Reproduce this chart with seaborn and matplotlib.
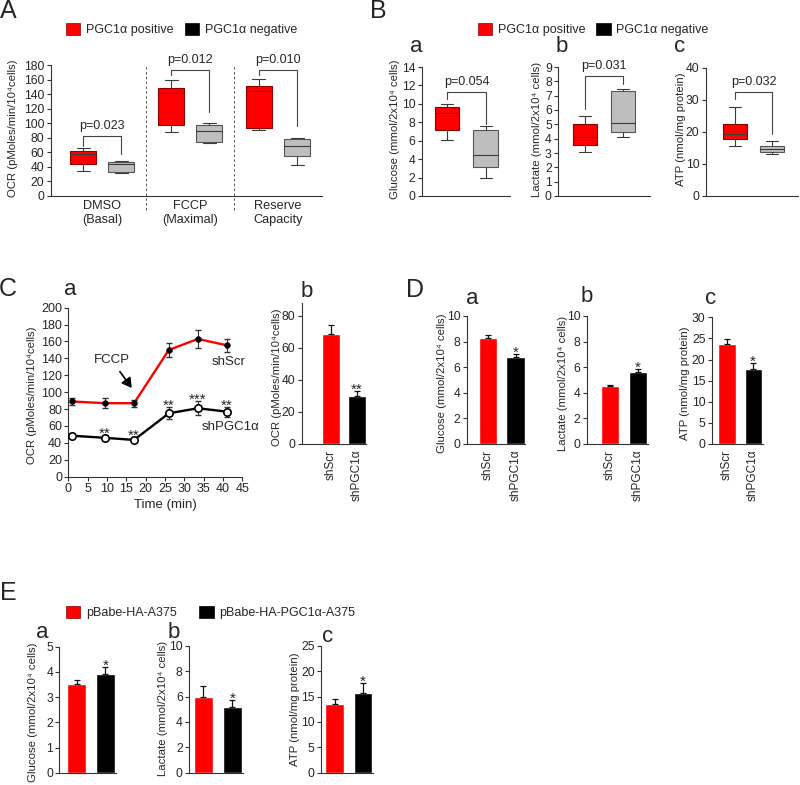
import numpy as np
import pandas as pd
import seaborn as sns
import matplotlib.pyplot as plt
from matplotlib.patches import Patch

# ================================
# data
# ================================
STATUS = ["PGC1α positive", "PGC1α negative"]

# panel A: five-number summaries (min, Q1, median, Q3, max)
A_GROUPS = ["DMSO\n(Basal)", "FCCP\n(Maximal)", "Reserve\nCapacity"]
A_POS = [[34, 44, 58, 62, 66], [88, 98, 142, 149, 160], [90, 93, 144, 151, 161]]
A_NEG = [[31, 33, 44, 46, 48], [73, 74, 89, 98, 100], [42, 54, 69, 78, 80]]
A_P = ["p=0.023", "p=0.012", "p=0.010"]
A_BRACKET = [82, 173, 173]
A_LEG_L = [69, 166, 166]
A_LEG_R = [57, 115, 96]

# panel B: five-number summaries
B_GLUCOSE_POS = [6.1, 7.2, 9.0, 9.7, 10.0]
B_GLUCOSE_NEG = [1.9, 3.1, 4.5, 7.2, 7.6]
B_LACTATE_POS = [3.1, 3.55, 4.15, 5.0, 5.6]
B_LACTATE_NEG = [4.15, 4.5, 5.1, 7.3, 7.5]
B_ATP_POS = [15.5, 17.8, 19.3, 22.5, 27.8]
B_ATP_NEG = [13.1, 13.8, 14.7, 15.5, 17.2]
B_P = ["p=0.054", "p=0.031", "p=0.032"]
B_BRACKET = [11.3, 8.37, 32.5]
B_LEG_L = [10.5, 6.05, 30.4]
B_LEG_R = [7.85, 7.84, 19.4]

# panel C
TIME = [1, 9.5, 17, 26, 33.5, 41]
SHSCR = [89, 87, 87, 150, 163, 155.5]
SHSCR_ERR = [4, 6, 4, 8, 11, 8]
SHPGC = [48.5, 46, 43.5, 75, 81, 77]
SHPGC_ERR = [3, 3, 3, 7, 8, 6]
C_STARS = ["", "**", "**", "**", "***", "**"]
SH_LABELS = ["shScr", "shPGC1α"]
CB_OCR = [68.5, 30]
CB_ERR = [5.5, 2.7]
CB_STARS = ["", "**"]

# panel D
D_GLUCOSE = [8.3, 6.8]
D_GLUCOSE_ERR = [0.2, 0.25]
D_LACTATE = [4.5, 5.6]
D_LACTATE_ERR = [0.12, 0.28]
D_ATP = [23.7, 17.7]
D_ATP_ERR = [1.2, 1.4]
D_STARS = ["", "*"]

# panel E
E_LABELS = ["pBabe-HA-A375", "pBabe-HA-PGC1α-A375"]
E_GLUCOSE = [3.52, 3.9]
E_GLUCOSE_ERR = [0.15, 0.28]
E_LACTATE = [5.95, 5.15]
E_LACTATE_ERR = [0.87, 0.57]
E_ATP = [13.5, 15.7]
E_ATP_ERR = [0.95, 2.0]
E_STARS = ["*", "*", "*"]

OCR_LABEL = "OCR (pMoles/min/10⁴cells)"
GLU_LABEL = "Glucose (mmol/2x10⁴ cells)"
LAC_LABEL = "Lactate (mmol/2x10⁴ cells)"
ATP_LABEL = "ATP (nmol/mg protein)"

RED = "#FF0000"
GRAY = "#BEBEBE"
BLACK = "#000000"
LINE = "#333333"

# ================================
# figure helpers (pixel layout of the 800x785 reference)
# ================================
sns.set_theme(style="ticks")
plt.rcParams["font.family"] = ["Liberation Sans", "DejaVu Sans"]

W, H = 800, 785
fig = plt.figure(figsize=(W / 100, H / 100), dpi=100)


def add_ax(l, t, r, b):
    return fig.add_axes([l / W, 1 - b / H, (r - l) / W, (b - t) / H])


def ftext(x, y, s, **kw):
    fig.text(x / W, 1 - y / H, s, **kw)


def style_ax(ax, ticksize=8.7):
    sns.despine(ax=ax)
    for sp in ("left", "bottom"):
        ax.spines[sp].set_linewidth(0.8)
        ax.spines[sp].set_color(LINE)
    ax.tick_params(axis="y", labelsize=ticksize, length=3, width=0.8, color=LINE, pad=1.5)
    ax.tick_params(axis="x", length=0)
    ax.set_xlabel("")
    ax.set_ylabel("")


def ylabel(x, y, s):
    ftext(x, y, s, rotation=90, ha="center", va="center", fontsize=8.2)


def letter(x, y, s, size=16):
    ftext(x, y, s, ha="center", va="center", fontsize=size)


def bracket(ax, x0, x1, top, left, right, label, ymax):
    ax.plot([x0, x0, x1, x1], [left, top, top, right], color="#444444", lw=0.8, clip_on=False)
    ax.text((x0 + x1) / 2, top + 0.08 * ymax, label, ha="center", va="center",
            fontsize=9, clip_on=False)


def fix_box_edges(ax):
    for p in ax.patches:
        fc = p.get_facecolor()
        if fc[0] > 0.9 and fc[1] < 0.2:
            p.set_edgecolor("#8c0000")
        else:
            p.set_edgecolor("#555555")


def stars(ax, xs, tops, labels):
    for x, y, s in zip(xs, tops, labels):
        if s:
            ax.annotate(s, (x, y), xytext=(0, -2), textcoords="offset points",
                        ha="center", va="baseline", fontsize=11)


def bar_panel(rect, xlim, ylim, yticks, values, errs, star_labels, width=0.66, ticklabels=None):
    ax = add_ax(*rect)
    sns.barplot(x=SH_LABELS, y=values, hue=SH_LABELS, palette=[RED, BLACK], width=width,
                saturation=1, legend=False, ax=ax)
    ax.errorbar([0, 1], values, yerr=[[0, 0], errs], fmt="none", ecolor="#111111",
                elinewidth=0.9, capsize=2.5, capthick=0.9)
    stars(ax, [0, 1], np.add(values, errs), star_labels)
    style_ax(ax)
    ax.set_xlim(*xlim)
    ax.set_ylim(*ylim)
    ax.set_yticks(yticks)
    ax.set_xticks([0, 1])
    if ticklabels:
        ax.set_xticklabels(ticklabels, rotation=90, fontsize=8.5)
        ax.tick_params(axis="x", pad=4)
    else:
        ax.set_xticklabels([])
    return ax


# ================================
# A: OCR box plots
# ================================
rows = []
for g, pos, neg in zip(A_GROUPS, A_POS, A_NEG):
    rows += [(g, STATUS[0], v) for v in pos]
    rows += [(g, STATUS[1], v) for v in neg]
df_a = pd.DataFrame(rows, columns=["group", "status", "ocr"])

ax = add_ax(50.7, 65, 322, 195.7)
sns.boxplot(data=df_a, x="group", y="ocr", hue="status", hue_order=STATUS,
            palette=[RED, GRAY], whis=(0, 100), width=0.87, gap=0.32, linewidth=0.8,
            linecolor="#3a3a3a", saturation=1, legend=False, ax=ax)
fix_box_edges(ax)
style_ax(ax)
ax.set_ylim(0, 180)
ax.set_yticks(range(0, 181, 20))
ax.set_xlim(-0.586, 2.5)
ax.set_xticks([0, 1, 2])
ax.set_xticklabels(A_GROUPS, fontsize=9.2)
ax.tick_params(axis="x", pad=3)
for sep in (0.5, 1.5):
    ax.plot([sep, sep], [-20, 180], ls=(0, (2.5, 2.5)), lw=0.7, color="#555555", clip_on=False)
for i in range(3):
    bracket(ax, i - 0.2175, i + 0.2175, A_BRACKET[i], A_LEG_L[i], A_LEG_R[i], A_P[i], 180)
ylabel(13, 128, OCR_LABEL)
letter(8, 11, "A", 18)

legend_handles = [Patch(facecolor=RED, edgecolor="#8c0000", lw=0.5),
                  Patch(facecolor=BLACK, edgecolor=BLACK, lw=0.5)]
for x0 in (66, 477.7):
    fig.legend(handles=legend_handles, labels=STATUS, loc="center left",
               bbox_to_anchor=(x0 / W, 1 - 29.5 / H), ncol=2, frameon=False, fontsize=9,
               handlelength=1.15, handleheight=1.15, handletextpad=0.45,
               columnspacing=0.9, borderpad=0, borderaxespad=0)

# ================================
# B: glucose / lactate / ATP box plots
# ================================
b_panels = [
    ((421.7, 67, 510, 196), (-0.65, 1.62), 14, range(0, 15, 2), B_GLUCOSE_POS, B_GLUCOSE_NEG,
     GLU_LABEL, 395, "a", 416),
    ((558, 67, 650, 196), (-0.71, 1.71), 9, range(0, 10), B_LACTATE_POS, B_LACTATE_NEG,
     LAC_LABEL, 536.7, "b", 562),
    ((705.7, 68, 798, 196), (-0.78, 1.68), 40, range(0, 41, 10), B_ATP_POS, B_ATP_NEG,
     ATP_LABEL, 680.5, "c", 679.5),
]
letter(378, 11, "B", 18)
for i, (rect, xlim, ymax, yt, pos, neg, lab, lx, let, letx) in enumerate(b_panels):
    df_b = pd.DataFrame({"status": [STATUS[0]] * 5 + [STATUS[1]] * 5, "value": pos + neg})
    ax = add_ax(*rect)
    sns.boxplot(data=df_b, x="status", y="value", hue="status", order=STATUS, hue_order=STATUS,
                palette=[RED, GRAY], whis=(0, 100), width=0.64, linewidth=0.8,
                linecolor="#3a3a3a", saturation=1, legend=False, ax=ax)
    fix_box_edges(ax)
    style_ax(ax)
    ax.set_ylim(0, ymax)
    ax.set_yticks(list(yt))
    ax.set_xlim(*xlim)
    ax.set_xticks([])
    bracket(ax, 0, 1, B_BRACKET[i], B_LEG_L[i], B_LEG_R[i], B_P[i], ymax)
    ylabel(lx, 129, lab)
    letter(letx, 46.5, let)

# ================================
# C: OCR time course and summary bars
# ================================
letter(8, 289, "C", 18)
ax = add_ax(68.3, 307.7, 242.3, 476.7)
df_c = pd.DataFrame({"time": TIME * 2, "ocr": SHSCR + SHPGC,
                     "line": ["shScr"] * 6 + ["shPGC1α"] * 6})
sns.lineplot(data=df_c, x="time", y="ocr", hue="line", palette=[RED, BLACK], lw=1.7,
             legend=False, ax=ax)
ax.errorbar(TIME, SHSCR, yerr=SHSCR_ERR, fmt="none", ecolor=LINE, elinewidth=0.8, capsize=2.5)
ax.errorbar(TIME, SHPGC, yerr=SHPGC_ERR, fmt="none", ecolor=LINE, elinewidth=0.8, capsize=2.5)
sns.scatterplot(x=TIME, y=SHSCR, color="black", edgecolor="black", s=18, zorder=4, ax=ax)
sns.scatterplot(x=TIME, y=SHPGC, color="white", edgecolor="black", linewidth=1.2, s=28,
                zorder=4, ax=ax)
stars(ax, TIME, np.add(SHPGC, SHPGC_ERR), C_STARS)
style_ax(ax, ticksize=9)
ax.tick_params(axis="x", labelsize=9, length=3, width=0.8, color=LINE, pad=1.5)
ax.set_xlim(0, 45)
ax.set_ylim(0, 200)
ax.set_xticks(range(0, 46, 5))
ax.set_yticks(range(0, 201, 20))
ax.annotate("FCCP", xy=(16.4, 105), xytext=(11.2, 138), ha="center", va="center", fontsize=9.5,
            arrowprops=dict(arrowstyle="-|>,head_length=0.6,head_width=0.35", color="black",
                            lw=1.2, shrinkA=2, shrinkB=0))
ax.text(41.5, 136, "shScr", ha="center", va="center", fontsize=9.5)
ax.text(42, 59, "shPGC1α", ha="center", va="center", fontsize=9.5)
ftext(165, 505, "Time (min)", ha="center", va="center", fontsize=9.5)
ylabel(31.7, 395, OCR_LABEL)
letter(70, 290, "a")

bar_panel((301.7, 302.7, 366, 444), (-1.12, 1.36), (0, 88), range(0, 81, 20), CB_OCR, CB_ERR,
          CB_STARS, width=0.7, ticklabels=SH_LABELS)
ylabel(276.5, 377, OCR_LABEL)
letter(307, 292, "b")

# ================================
# D: shRNA metabolite bars
# ================================
letter(415, 290, "D", 18)
bar_panel((466.7, 316, 525, 444), (-0.775, 1.345), (0, 10), range(0, 11, 2), D_GLUCOSE,
          D_GLUCOSE_ERR, D_STARS, ticklabels=SH_LABELS)
ylabel(441.7, 383, GLU_LABEL)
letter(472, 298.5, "a")
bar_panel((586.7, 316, 648, 444), (-0.838, 1.37), (0, 10), range(0, 11, 2), D_LACTATE,
          D_LACTATE_ERR, D_STARS, ticklabels=SH_LABELS)
ylabel(563.3, 383, LAC_LABEL)
letter(587, 297, "b")
bar_panel((711.7, 317.3, 763, 444), (-0.59, 1.38), (0, 30), range(0, 31, 5), D_ATP,
          D_ATP_ERR, D_STARS, ticklabels=SH_LABELS)
ylabel(685, 383, ATP_LABEL)
letter(711, 298.5, "c")

# ================================
# E: overexpression metabolite bars
# ================================
letter(8, 593.5, "E", 18)
fig.legend(handles=legend_handles, labels=E_LABELS, loc="center left",
           bbox_to_anchor=(66 / W, 1 - 612.5 / H), ncol=2, frameon=False, fontsize=9,
           handlelength=1.15, handleheight=1.15, handletextpad=0.45,
           columnspacing=1.8, borderpad=0, borderaxespad=0)
bar_panel((59.3, 646.7, 116, 772.7), (-0.614, 1.375), (0, 5), range(0, 6), E_GLUCOSE,
          E_GLUCOSE_ERR, ["", E_STARS[0]])
ylabel(33, 712, GLU_LABEL)
letter(42, 632, "a")
bar_panel((189, 645.7, 243, 772.7), (-0.49, 1.37), (0, 10), range(0, 11, 2), E_LACTATE,
          E_LACTATE_ERR, ["", E_STARS[1]])
ylabel(163, 708, LAC_LABEL)
letter(174, 632, "b")
bar_panel((321, 645.7, 373, 772.7), (-0.48, 1.36), (0, 25), range(0, 26, 5), E_ATP,
          E_ATP_ERR, ["", E_STARS[2]])
ylabel(295, 709, ATP_LABEL)
letter(327.5, 636, "c")

fig.savefig("out.png", dpi=100)
